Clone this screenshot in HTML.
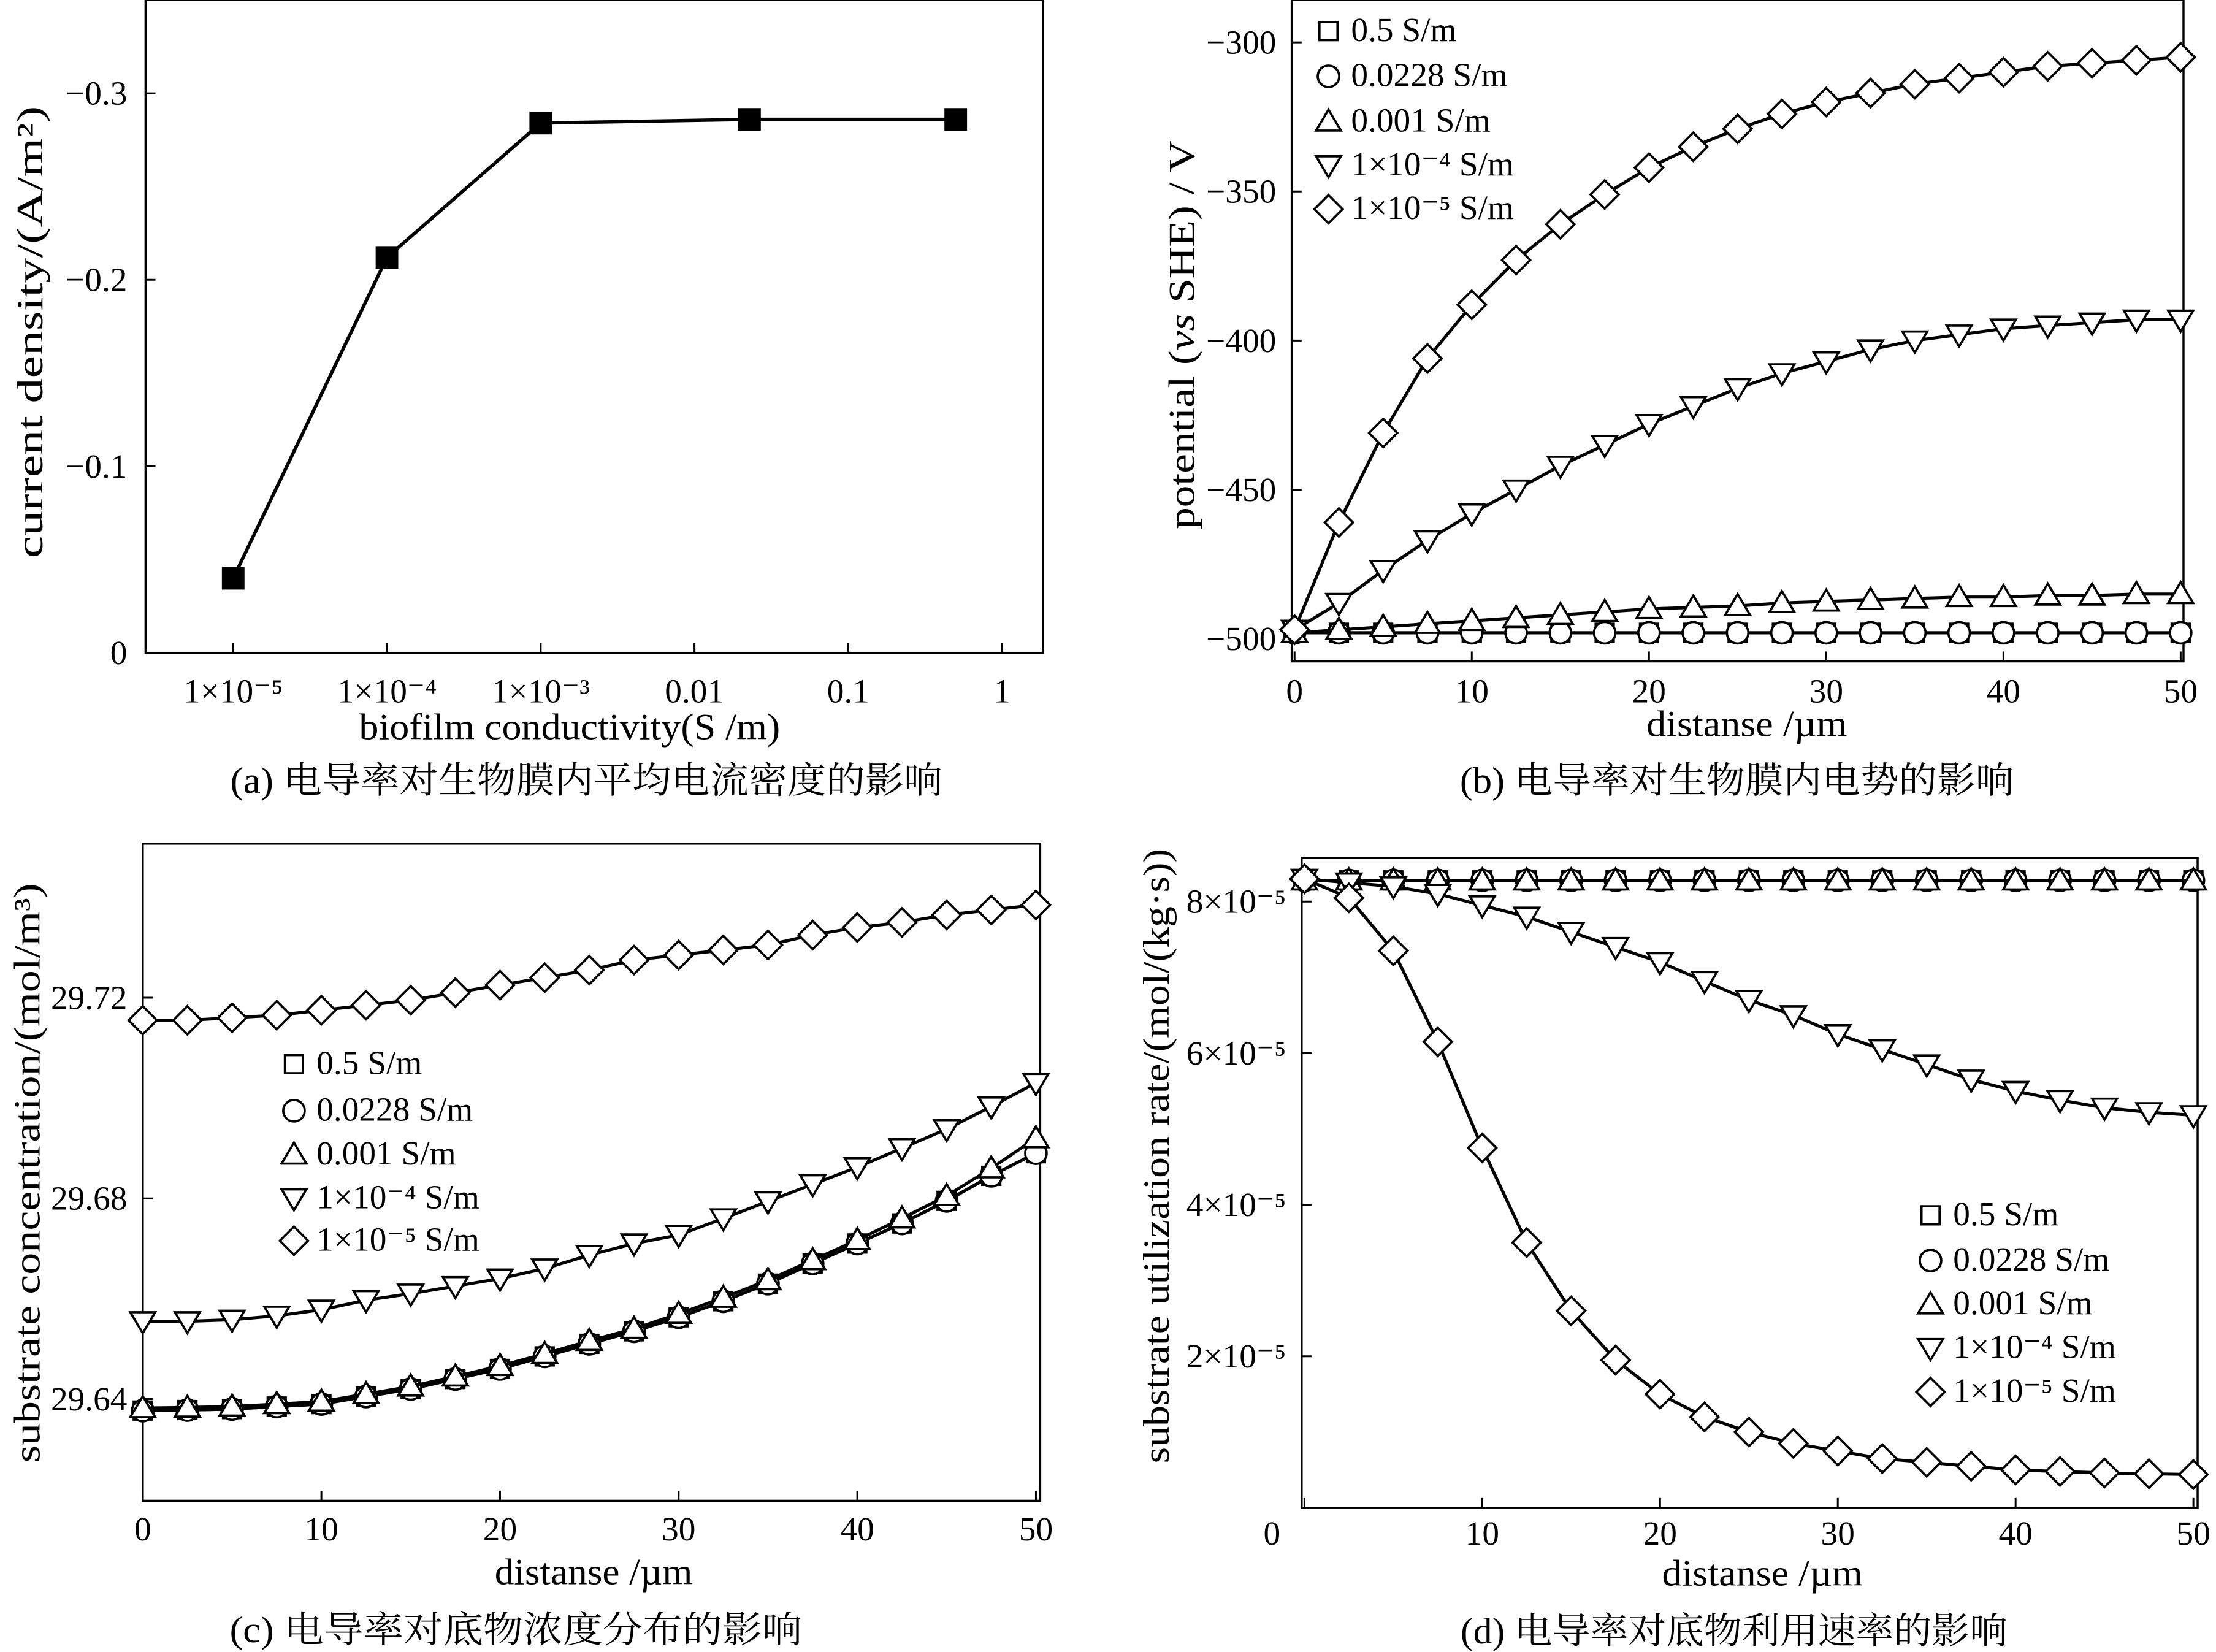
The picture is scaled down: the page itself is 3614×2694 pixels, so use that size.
<!DOCTYPE html>
<html><head><meta charset="utf-8">
<style>
html,body{margin:0;padding:0;background:#fff;}
svg{display:block;}
text{font-family:"Liberation Serif","Noto Serif CJK SC","Noto Sans CJK SC",serif;fill:#000;}
</style></head>
<body>
<svg id="fig" xmlns="http://www.w3.org/2000/svg" width="3614" height="2694" viewBox="0 0 1568 1169" preserveAspectRatio="none">
<rect width="1568" height="1169" fill="#fff"/>
</svg>
<script>
// ---- Data ----
const aCategories = ["1×10⁻⁵","1×10⁻⁴","1×10⁻³","0.01","0.1","1"];
const aConductivity = [1e-5,1e-4,1e-3,0.0228,0.5];
const aCurrent = [-0.04,-0.212,-0.284,-0.286,-0.286];
const aYTicks = [0,-0.1,-0.2,-0.3];
const aYTickLabels = ["0","−0.1","−0.2","−0.3"];

const dist = [0,2.5,5,7.5,10,12.5,15,17.5,20,22.5,25,27.5,30,32.5,35,37.5,40,42.5,45,47.5,50];
const xTicks = [0,10,20,30,40,50];
const legendLabels = ["0.5 S/m","0.0228 S/m","0.001 S/m","1×10⁻⁴ S/m","1×10⁻⁵ S/m"];

const bSquare = [-498,-498,-498,-498,-498,-498,-498,-498,-498,-498,-498,-498,-498,-498,-498,-498,-498,-498,-498,-498,-498];
const bCircle = [-498,-498,-498,-498,-498,-498,-498,-498,-498,-498,-498,-498,-498,-498,-498,-498,-498,-498,-498,-498,-498];
const bUp = [-498,-497,-496,-495,-494,-493,-492,-491,-490,-489.5,-489,-488,-487.5,-487,-486.5,-486,-486,-485.5,-485.5,-485,-485];
const bDown = [-497,-488,-477,-467,-458,-450,-442,-435,-428,-422,-416,-411,-407,-403,-400,-398,-396,-395,-394,-393,-393];
const bDiamond = [-497,-461,-431,-406,-388,-373,-361,-351,-342,-335,-329,-324,-320,-317,-314,-312,-310,-308,-307,-306,-305];
const bYTicks = [-300,-350,-400,-450,-500];

const cSquare = [29.6377,29.6378,29.638,29.6385,29.639,29.6405,29.642,29.644,29.646,29.6485,29.651,29.6535,29.6563,29.6595,29.663,29.667,29.671,29.675,29.6795,29.6845,29.689];
const cCircle = [29.6377,29.6378,29.638,29.6385,29.639,29.6405,29.642,29.644,29.646,29.6485,29.651,29.6535,29.6563,29.6595,29.663,29.667,29.671,29.675,29.6795,29.6845,29.689];
const cUp = [29.6382,29.6383,29.6385,29.639,29.6395,29.641,29.6425,29.6445,29.6466,29.649,29.6516,29.654,29.657,29.6602,29.6637,29.6677,29.6717,29.676,29.6805,29.686,29.692];
const cDown = [29.6555,29.6555,29.6558,29.6566,29.6578,29.6597,29.661,29.6625,29.664,29.666,29.6687,29.671,29.6727,29.676,29.6794,29.6828,29.6862,29.690,29.6938,29.6983,29.703];
const cDiamond = [29.7155,29.7155,29.716,29.7165,29.7175,29.7185,29.7195,29.721,29.7225,29.724,29.7255,29.7275,29.7285,29.7295,29.7305,29.7325,29.734,29.735,29.7365,29.7375,29.7385];
const cYTicks = [29.64,29.68,29.72];

const dSquare = [8.28,8.28,8.28,8.28,8.28,8.28,8.28,8.28,8.28,8.28,8.28,8.28,8.28,8.28,8.28,8.28,8.28,8.28,8.28,8.28,8.28];
const dCircle = [8.28,8.28,8.28,8.28,8.28,8.28,8.28,8.28,8.28,8.28,8.28,8.28,8.28,8.28,8.28,8.28,8.28,8.28,8.28,8.28,8.28];
const dUp = [8.28,8.28,8.28,8.28,8.28,8.28,8.28,8.28,8.28,8.28,8.28,8.28,8.28,8.28,8.28,8.28,8.28,8.28,8.28,8.28,8.28];
const dDown = [8.3,8.25,8.2,8.1,7.95,7.8,7.6,7.4,7.2,6.95,6.7,6.5,6.25,6.05,5.85,5.65,5.5,5.38,5.28,5.22,5.18];
const dDiamond = [8.3,8.05,7.35,6.15,4.75,3.5,2.6,1.95,1.5,1.2,1.0,0.85,0.75,0.65,0.6,0.55,0.5,0.48,0.46,0.45,0.44];
const dYTicks = [0,2,4,6,8];
const dYTickLabels = ["0","2×10⁻⁵","4×10⁻⁵","6×10⁻⁵","8×10⁻⁵"];

// ---- Helpers ----
const NS="http://www.w3.org/2000/svg";
const svg=document.getElementById('fig');
function mk(tag,attrs,parent){const e=document.createElementNS(NS,tag);for(const k in attrs)e.setAttribute(k,attrs[k]);(parent||svg).appendChild(e);return e;}
function txt(s,x,y,size,anchor,parent){const t=mk('text',{x:x,y:y,'font-size':size,'text-anchor':anchor||'middle'},parent);t.textContent=s;return t;}
function fit(t,w){t.setAttribute('textLength',w);t.setAttribute('lengthAdjust','spacingAndGlyphs');}
function lin(d0,d1,p0,p1){return v=>p0+(v-d0)/(d1-d0)*(p1-p0);}
function marker(type,x,y,g,s){
  s=s||8;let e;const st={fill:'#fff',stroke:'#000','stroke-width':1.6};
  if(type==='square'){e=mk('rect',Object.assign({x:x-s*0.8,y:y-s*0.8,width:s*1.6,height:s*1.6},st),g);}
  else if(type==='circle'){e=mk('circle',Object.assign({cx:x,cy:y,r:s*0.95},st),g);}
  else if(type==='up'){e=mk('polygon',Object.assign({points:`${x},${y-s*1.05} ${x-s*1.1},${y+s*0.8} ${x+s*1.1},${y+s*0.8}`},st),g);}
  else if(type==='down'){e=mk('polygon',Object.assign({points:`${x},${y+s*1.05} ${x-s*1.1},${y-s*0.8} ${x+s*1.1},${y-s*0.8}`},st),g);}
  else {e=mk('polygon',Object.assign({points:`${x},${y-s*1.25} ${x+s*1.25},${y} ${x},${y+s*1.25} ${x-s*1.25},${y}`},st),g);}
  return e;
}
function frame(x0,y0,x1,y1,name){
  const r=mk('rect',{x:x0,y:y0,width:x1-x0,height:y1-y0,fill:'none',stroke:'#000','stroke-width':1.5});
  
  
}
function tick(x1,y1,x2,y2,g){mk('line',{x1:x1,y1:y1,x2:x2,y2:y2,stroke:'#000','stroke-width':1.3},g);}
function series(xs,ys,X,Y,type,name,s){
  const g=mk('g',{});
  
  
  const pts=xs.map((v,i)=>X(v).toFixed(1)+','+Y(ys[i]).toFixed(1)).join(' ');
  mk('polyline',{points:pts,fill:'none',stroke:'#000','stroke-width':2.2},g);
  xs.forEach((v,i)=>marker(type,X(v),Y(ys[i]),g,s));
}
function legend(x,ys,types,fs,name){
  const g=mk('g',{});
  
  
  types.forEach((t,i)=>{
    const it=mk('g',{},g);
    
    
    marker(t,x,ys[i]-7,it,8);
    txt(legendLabels[i],x+16,ys[i],fs,'start',it);
  });
}
const types=['square','circle','up','down','diamond'];
const FS=24;
const TF=26;

// ---- Panel (a) ----
{
  const X=v=>165+(Math.log10(v)+5)*108.8;
  const Y=lin(0,-0.3,462,66);
  frame(103,0,738,462,'panel-a-plot-area');
  const g=mk('g',{});
  [1e-5,1e-4,1e-3,0.01,0.1,1].forEach((v,i)=>{tick(X(v),462,X(v),455,g);txt(aCategories[i],X(v),497,FS,'middle',g);});
  aYTicks.forEach((v,i)=>{tick(103,Y(v),110,Y(v),g);txt(aYTickLabels[i],90,Y(v)+8,FS,'end',g);});
  const sg=mk('g',{});
  mk('polyline',{points:aConductivity.map((v,i)=>X(v)+','+Y(aCurrent[i])).join(' '),fill:'none',stroke:'#000','stroke-width':2.4},sg);
  aConductivity.forEach((v,i)=>mk('rect',{x:X(v)-8,y:Y(aCurrent[i])-8,width:16,height:16,fill:'#000'},sg));
  const xl=txt('biofilm conductivity(S /m)',403,523,TF);fit(xl,298);
  const yl=txt('current density/(A/m²)',0,0,TF);fit(yl,320);yl.setAttribute('transform','translate(30,235) rotate(-90)');
  const cp=txt('(a) 电导率对生物膜内平均电流密度的影响',415,561,TF);fit(cp,504);
}
// ---- Panel (b) ----
{
  const X=lin(0,50,916,1543);
  const Y=lin(-300,-500,30,452);
  frame(914,0,1545,468,'panel-b-plot-area');
  const g=mk('g',{});
  xTicks.forEach(v=>{tick(X(v),468,X(v),461,g);txt(String(v),X(v),497,FS,'middle',g);});
  bYTicks.forEach(v=>{tick(914,Y(v),921,Y(v),g);txt('−'+Math.abs(v),903,Y(v)+8,FS,'end',g);});
  series(dist,bSquare,X,Y,'square','series-b-0.5');
  series(dist,bCircle,X,Y,'circle','series-b-0.0228');
  series(dist,bUp,X,Y,'up','series-b-0.001');
  series(dist,bDown,X,Y,'down','series-b-1e-4');
  series(dist,bDiamond,X,Y,'diamond','series-b-1e-5');
  legend(940,[29,61,93,124,155],types,FS,'panel-b-legend');
  const xl=txt('distanse /µm',1236,521,TF);fit(xl,142);
  const yl=mk('text',{x:0,y:0,'font-size':TF,'text-anchor':'middle',transform:'translate(845,237) rotate(-90)',textLength:275,lengthAdjust:'spacingAndGlyphs'});
  yl.innerHTML='potential (<tspan font-style="italic">vs</tspan> SHE) / V';
  
  const cp=txt('(b) 电导率对生物膜内电势的影响',1229,561,TF);fit(cp,392);
}
// ---- Panel (c) ----
{
  const X=lin(0,50,101,733);
  const Y=lin(29.64,29.72,990,706);
  frame(101,597,736,1062,'panel-c-plot-area');
  const g=mk('g',{});
  xTicks.forEach(v=>{tick(X(v),1062,X(v),1055,g);txt(String(v),X(v),1090,FS,'middle',g);});
  cYTicks.forEach(v=>{tick(101,Y(v),108,Y(v),g);txt(v.toFixed(2),90,Y(v)+8,FS,'end',g);});
  series(dist,cSquare,X,Y,'square','series-c-0.5');
  series(dist,cCircle,X,Y,'circle','series-c-0.0228');
  series(dist,cUp,X,Y,'up','series-c-0.001');
  series(dist,cDown,X,Y,'down','series-c-1e-4');
  series(dist,cDiamond,X,Y,'diamond','series-c-1e-5');
  legend(208,[760,793,824,855,885],types,FS,'panel-c-legend');
  const xl=txt('distanse /µm',420,1121,TF);fit(xl,140);
  const yl=txt('substrate concentration/(mol/m³)',0,0,TF);fit(yl,410);yl.setAttribute('transform','translate(28,830) rotate(-90)');
  const cp=txt('(c) 电导率对底物浓度分布的影响',365,1162,TF);fit(cp,405);
}
// ---- Panel (d) ----
{
  const X=lin(0,50,923,1552);
  const Y=lin(0,8,1067,638);
  frame(921,607,1555,1067,'panel-d-plot-area');
  const g=mk('g',{});
  xTicks.forEach(v=>{tick(X(v),1067,X(v),1060,g);if(v>0)txt(String(v),X(v),1093,FS,'middle',g);});
  dYTicks.forEach((v,i)=>{tick(921,Y(v),928,Y(v),g);txt(dYTickLabels[i],i===0?906:910,i===0?1093:Y(v)+8,FS,'end',g);});
  series(dist,dSquare,X,Y,'square','series-d-0.5');
  series(dist,dCircle,X,Y,'circle','series-d-0.0228');
  series(dist,dUp,X,Y,'up','series-d-0.001');
  series(dist,dDown,X,Y,'down','series-d-1e-4');
  series(dist,dDiamond,X,Y,'diamond','series-d-1e-5');
  legend(1366,[867,899,930,961,992],types,FS,'panel-d-legend');
  const xl=txt('distanse /µm',1247,1122,TF);fit(xl,142);
  const yl=txt('substrate utilization rate/(mol/(kg·s))',0,0,TF);fit(yl,435);yl.setAttribute('transform','translate(827,818) rotate(-90)');
  const cp=txt('(d) 电导率对底物利用速率的影响',1227,1163,TF);fit(cp,387);
}
</script>
</body></html>
